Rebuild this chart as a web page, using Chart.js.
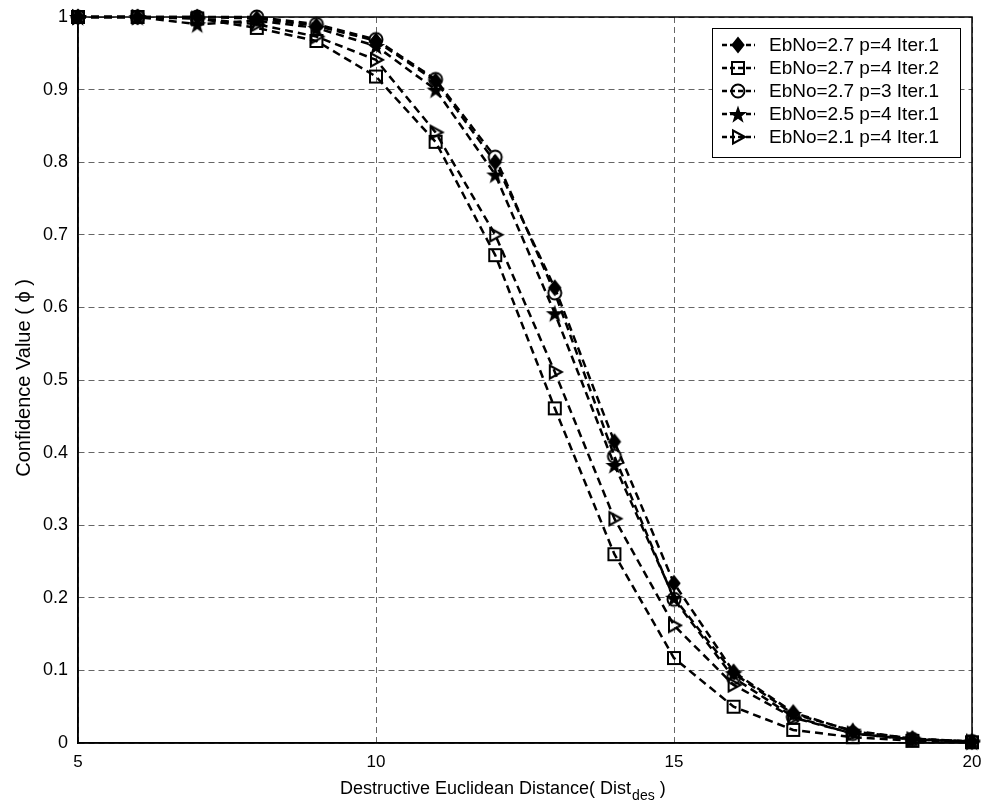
<!DOCTYPE html>
<html>
<head>
<meta charset="utf-8">
<script src="https://cdn.jsdelivr.net/npm/chart.js@4.4.1/dist/chart.umd.min.js"></script>
<style>
  html, body { margin: 0; padding: 0; background: #fff; }
  #wrap { width: 985px; height: 807px; position: relative; }
</style>
</head>
<body>
<div id="wrap"><canvas id="confChart"></canvas></div>
<script>
// values
const distance = [5, 6, 7, 8, 9, 10, 11, 12, 13, 14, 15, 16, 17, 18, 19, 20];
const eb27p4it1 = [1, 1, 1, 0.998, 0.988, 0.967, 0.912, 0.80, 0.627, 0.415, 0.22, 0.098, 0.042, 0.016, 0.006, 0.002];
const eb27p4it2 = [1, 1, 0.998, 0.985, 0.967, 0.918, 0.828, 0.672, 0.461, 0.26, 0.117, 0.05, 0.018, 0.008, 0.003, 0.001];
const eb27p3it1 = [1, 1, 1, 1, 0.99, 0.969, 0.914, 0.807, 0.62, 0.395, 0.198, 0.09, 0.036, 0.013, 0.005, 0.002];
const eb25p4it1 = [1, 1, 0.99, 0.995, 0.985, 0.96, 0.9, 0.783, 0.592, 0.383, 0.2, 0.096, 0.04, 0.017, 0.006, 0.002];
const eb21p4it1 = [1, 1, 0.998, 0.99, 0.973, 0.941, 0.841, 0.70, 0.511, 0.309, 0.162, 0.08, 0.035, 0.013, 0.005, 0.002];
const seriesLabels = ['EbNo=2.7 p=4 Iter.1', 'EbNo=2.7 p=4 Iter.2', 'EbNo=2.7 p=3 Iter.1', 'EbNo=2.5 p=4 Iter.1', 'EbNo=2.1 p=4 Iter.1'];
const xTicks = [5, 10, 15, 20];

const FONT = 'Liberation Sans, Arial, sans-serif';

// marker images, MATLAB style
function marker(kind) {
    const s = 22, c = document.createElement('canvas');
    c.width = s; c.height = s;
    const g = c.getContext('2d');
    g.strokeStyle = '#000'; g.fillStyle = '#000'; g.lineWidth = 2;
    const m = s / 2;
    g.beginPath();
    if (kind === 'diamond') {
        g.moveTo(m, m - 7); g.lineTo(m + 5.5, m); g.lineTo(m, m + 7); g.lineTo(m - 5.5, m); g.closePath();
        g.fill(); g.stroke();
    } else if (kind === 'square') {
        g.rect(m - 6, m - 6, 12, 12); g.stroke();
    } else if (kind === 'circle') {
        g.arc(m, m, 6.5, 0, Math.PI * 2); g.stroke();
    } else if (kind === 'star') {
        for (let i = 0; i < 10; i++) {
            const r = i % 2 ? 3.8 : 9.5;
            const a = -Math.PI / 2 + i * Math.PI / 5;
            const px = m + r * Math.cos(a), py = m + 1 + r * Math.sin(a);
            i ? g.lineTo(px, py) : g.moveTo(px, py);
        }
        g.closePath(); g.fill();
    } else if (kind === 'triangle') {
        g.moveTo(m + 7, m); g.lineTo(m - 5, m - 6.5); g.lineTo(m - 5, m + 6.5); g.closePath(); g.stroke();
    }
    return c;
}
const markers = ['diamond', 'square', 'circle', 'star', 'triangle'].map(marker);
const seriesData = [eb27p4it1, eb27p4it2, eb27p3it1, eb25p4it1, eb21p4it1];

const datasets = seriesData.map((vals, i) => ({
    label: seriesLabels[i],
    data: distance.map((x, j) => ({ x: x, y: vals[j] })),
    borderColor: '#000',
    borderWidth: 2.5,
    borderDash: [8, 5],
    pointStyle: markers[i],
    pointRadius: 6,
    pointHoverRadius: 6,
    tension: 0,
    fill: false,
    clip: false
}));

// solid frame round the plot, drawn under the lines
const frame = {
    id: 'frame',
    beforeDatasetsDraw(chart) {
        const ctx = chart.ctx, ca = chart.chartArea;
        ctx.save();
        ctx.strokeStyle = '#000'; ctx.lineWidth = 1.5; ctx.setLineDash([]);
        ctx.strokeRect(ca.left, ca.top, ca.right - ca.left, ca.bottom - ca.top);
        ctx.restore();
    }
};

// legend drawn inside the plot, upper right
const insideLegend = {
    id: 'insideLegend',
    afterDatasetsDraw(chart) {
        const ctx = chart.ctx, ca = chart.chartArea;
        const w = 248, rowH = 23, h = rowH * 5 + 14;
        const x0 = ca.right - 12 - w, y0 = ca.top + 11;
        ctx.save();
        ctx.fillStyle = '#fff';
        ctx.fillRect(x0, y0, w, h);
        ctx.strokeStyle = '#000'; ctx.lineWidth = 1; ctx.setLineDash([]);
        ctx.strokeRect(x0 + 0.5, y0 + 0.5, w, h);
        ctx.font = '19px ' + FONT;
        ctx.textBaseline = 'middle';
        ctx.fillStyle = '#000';
        seriesLabels.forEach((lab, i) => {
            const cy = y0 + 17 + i * rowH;
            ctx.beginPath();
            ctx.lineWidth = 2.5; ctx.setLineDash([5, 3]);
            ctx.moveTo(x0 + 10, cy); ctx.lineTo(x0 + 43, cy); ctx.stroke();
            ctx.setLineDash([]);
            ctx.drawImage(markers[i], x0 + 26 - 11, cy - 11);
            ctx.fillText(lab, x0 + 57, cy + 1);
        });
        ctx.restore();
    }
};

// axis titles (x title has a subscript)
const axisTitles = {
    id: 'axisTitles',
    afterDraw(chart) {
        const ctx = chart.ctx;
        ctx.save();
        ctx.fillStyle = '#000';
        const a = 'Destructive Euclidean Distance( Dist', b = 'des', c = ' )';
        ctx.font = '18px ' + FONT;
        const wa = ctx.measureText(a).width;
        ctx.font = '14px ' + FONT;
        const wb = ctx.measureText(b).width;
        let x = 340;
        const y = 794;
        ctx.textBaseline = 'alphabetic';
        ctx.font = '18px ' + FONT; ctx.fillText(a, x, y); x += wa + 1;
        ctx.font = '14px ' + FONT; ctx.fillText(b, x, y + 6); x += wb;
        ctx.font = '18px ' + FONT; ctx.fillText(c, x, y);
        ctx.translate(30, 378);
        ctx.rotate(-Math.PI / 2);
        ctx.textAlign = 'center';
        ctx.font = '20px ' + FONT;
        ctx.fillText('Confidence Value ( \u03D5 )', 0, 0);
        ctx.restore();
    }
};

new Chart(document.getElementById('confChart'), {
    type: 'line',
    data: { datasets: datasets },
    plugins: [frame, insideLegend, axisTitles],
    options: {
        responsive: true,
        maintainAspectRatio: false,
        animation: false,
        events: [],
        layout: { padding: { left: 0, top: 17, right: 13, bottom: 0 } },
        plugins: { legend: { display: false }, tooltip: { enabled: false } },
        scales: {
            x: {
                type: 'linear',
                min: 5, max: 20,
                afterFit(s) { s.height = 64; s.paddingLeft = 0; s.paddingRight = 0; },
                afterBuildTicks(s) { s.ticks = xTicks.map(v => ({ value: v })); },
                grid: { color: 'rgba(0,0,0,0.6)', lineWidth: 1, drawTicks: false },
                border: { display: true, color: '#000', width: 1.5, dash: [6, 4] },
                ticks: { color: '#000', font: { family: FONT, size: 17 }, padding: 9, maxRotation: 0 }
            },
            y: {
                min: 0, max: 1,
                afterFit(s) { s.width = 78; s.paddingTop = 0; s.paddingBottom = 0; },
                ticks: {
                    stepSize: 0.1, color: '#000', padding: 10,
                    font: { family: FONT, size: 18 },
                    callback: v => String(Number(v.toFixed(1)))
                },
                grid: { color: 'rgba(0,0,0,0.6)', lineWidth: 1, drawTicks: false },
                border: { display: true, color: '#000', width: 1.5, dash: [6, 4] }
            }
        }
    }
});
</script>
</body>
</html>
